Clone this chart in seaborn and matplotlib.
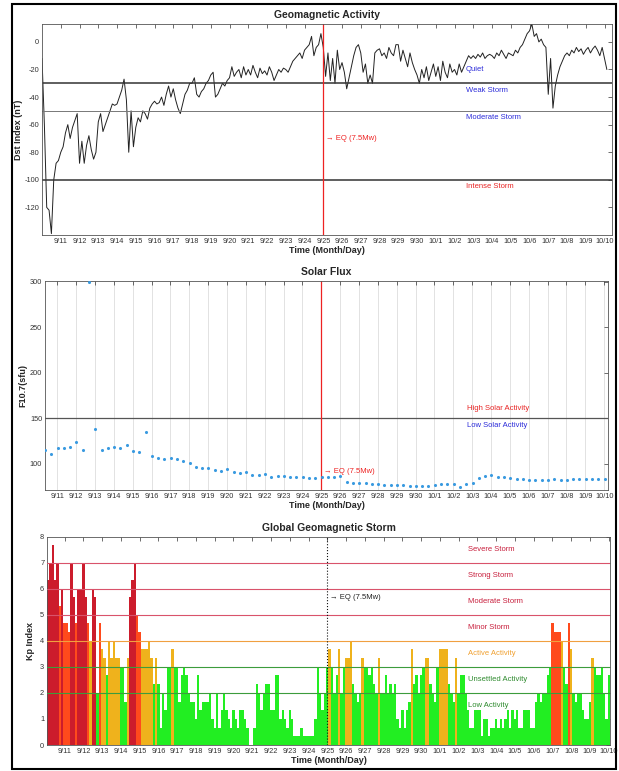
import numpy as np
import pandas as pd
import matplotlib
matplotlib.use("Agg")
import matplotlib.pyplot as plt
import seaborn as sns
from matplotlib.patches import Rectangle

# --- DATA (x = days since 9/10 00:00) ---
day_ticks = list(range(1, 31))
day_labels = [f"9/{d}" for d in range(11, 31)] + [f"10/{d}" for d in range(1, 11)]
eq_day = 15.0

# Dst index, 3-hourly
dst_values = [
    -12, -60, -120, -122, -139, -100, -88, -86,
    -80, -76, -66, -60, -70, -62, -57, -52,
    -88, -72, -88, -75, -68, -78, -85, -80,
    -58, -52, -65, -60, -55, -50, -45, -46,
    -45, -40, -35, -27, -42, -80, -50, -76,
    -62, -55, -58, -50, -52, -56, -48, -45,
    -43, -45, -44, -40, -46, -38, -32, -40,
    -34, -42, -48, -52, -45, -38, -35, -30,
    -30, -26, -38, -40, -36, -34, -30, -28,
    -24, -22, -40, -38, -34, -30, -32, -28,
    -26, -18, -25, -22, -20, -26, -18, -24,
    -20, -24, -17, -22, -26, -19, -23, -21,
    -24, -18, -22, -28, -24, -20, -22, -19,
    -20, -22, -18, -14, -12, -10, -8, -12,
    -6, -4, -2, 4, -10, -4, -2, 6,
    -4, -25, -8, -28, -12, -30, -6, -20,
    -15, -22, -34, -26, -18, -10, -4, -2,
    -8, -22, -16, -30, -24, -30, -8, -6,
    -5, -10, -8, -12, -4, -8, -10, -2,
    -2, -14, -6, -12, -18, -8, -15, -20,
    -24, -30, -20, -26, -18, -28, -22, -16,
    -25, -18, -28, -14, -22, -26, -16, -22,
    -20, -24, -16, -22, -18, -14, -10, -12,
    -10, -12, -9, -11, -8, -12, -10, -9,
    -10, -12, -8, -10, -6, -9, -12, -8,
    -9, -10, -6, -8, -4, -2, 2, 6,
    8, 13, 4, 6, 0, 2, -2, -4,
    -38, -12, -48, -32, -24, -18, -14, -10,
    -8, -10, -6, -8, -4, -7, -5, -9,
    -6, -4, -8, -5, -3, -6, -10, -4,
    -12, -20,
]

# F10.7 solar flux, 3 per day starting 9/10 08:00
f107_values = [
    114.7, 110, 117, 117, 118, 124, 114.7, 300, 138, 115,
    117, 118, 117, 120, 114, 113, 135, 108, 106, 105,
    106, 105, 103, 101, 96, 94.6, 94.6, 92.8, 91.3, 93.8,
    90.2, 89.1, 90.2, 87.7, 87.7, 88.4, 85.5, 85.9, 86.6, 84.8,
    84.8, 84.8, 84.5, 84.5, 84.8, 85.5, 84.8, 86.6, 79.5, 79.2,
    78.5, 78.2, 77.5, 77.2, 77.0, 77.0, 76.0, 76.5, 75.5, 75.8,
    75.0, 75.2, 77.0, 78.0, 77.5, 77.8, 73.8, 78.0, 78.5, 84.0,
    86.0, 87.7, 84.8, 84.8, 84.5, 83.0, 83.0, 82.5, 82.5, 82.5,
    82.5, 83.0, 82.5, 82.5, 83.0, 83.0, 83.0, 83.0, 83.0, 83.0,
]

# Kp index, 3-hourly
kp_values = [
    6.33, 7.0, 7.67, 6.33, 7.0, 5.33, 6.0, 4.67,
    4.67, 4.33, 7.0, 5.67, 4.67, 6.0, 6.0, 7.0,
    5.67, 4.67, 4.0, 6.0, 5.67, 2.0, 4.67, 3.67,
    3.33, 2.67, 4.0, 3.33, 4.0, 3.33, 3.33, 3.0,
    3.0, 1.67, 3.33, 5.67, 6.33, 7.0, 5.0, 4.33,
    3.67, 3.67, 3.67, 4.0, 3.33, 2.33, 3.33, 2.33,
    0.67, 2.0, 1.33, 3.0, 3.0, 3.67, 3.0, 3.0,
    1.67, 2.67, 3.0, 2.67, 2.0, 1.67, 1.67, 1.0,
    2.67, 1.33, 1.67, 1.67, 1.67, 2.0, 1.0, 0.67,
    2.0, 0.67, 1.33, 2.0, 1.33, 1.0, 0.67, 1.33,
    1.0, 0.67, 1.33, 1.33, 1.0, 0.67, 0.0, 0.0,
    0.67, 2.33, 2.0, 1.33, 2.0, 2.33, 2.33, 1.33,
    1.33, 2.67, 2.67, 1.0, 1.33, 1.0, 0.67, 1.33,
    1.0, 0.33, 0.33, 0.33, 0.67, 0.33, 0.33, 0.33,
    0.33, 0.33, 1.0, 3.0, 2.0, 1.33, 2.0, 3.0,
    3.67, 3.0, 2.0, 2.67, 3.67, 2.0, 3.0, 3.33,
    3.33, 4.0, 2.33, 2.0, 1.67, 2.0, 3.33, 3.0,
    3.0, 2.67, 3.0, 2.33, 2.0, 3.33, 2.0, 2.0,
    2.67, 2.0, 2.33, 2.0, 2.33, 1.0, 0.67, 1.33,
    0.67, 1.33, 1.67, 3.67, 2.33, 2.67, 2.0, 2.67,
    3.0, 3.33, 3.33, 2.33, 2.0, 1.67, 3.0, 3.67,
    3.67, 3.67, 3.67, 2.33, 2.0, 1.67, 3.33, 2.0,
    2.67, 2.67, 2.0, 1.33, 0.67, 0.67, 1.33, 1.33,
    1.33, 0.33, 1.0, 1.0, 0.33, 0.67, 0.67, 1.0,
    0.67, 1.0, 0.67, 1.0, 1.33, 0.67, 1.33, 1.0,
    1.33, 0.67, 0.67, 1.33, 1.33, 1.33, 0.67, 0.67,
    1.67, 2.0, 1.67, 2.0, 2.0, 2.67, 3.0, 4.67,
    4.33, 4.33, 4.33, 4.0, 3.0, 2.33, 4.67, 3.67,
    2.0, 1.67, 2.0, 2.0, 1.33, 1.0, 1.0, 1.67,
    3.33, 3.0, 2.67, 2.67, 3.0, 2.0, 1.0, 2.67,
]

dst_levels = [("Quiet", -20, "#2b2bd9"), ("Weak Storm", -35, "#2b2bd9"),
              ("Moderate Storm", -55, "#2b2bd9"), ("Intense Storm", -105, "#e82424")]
kp_levels = [(7, "Severe Storm", 7.5, "#c81e3c", "#d9536b"),
             (6, "Strong Storm", 6.5, "#c81e3c", "#d9536b"),
             (5, "Moderate Storm", 5.5, "#c81e3c", "#d9536b"),
             (4, "Minor Storm", 4.5, "#c81e3c", "#f0a040"),
             (3, "Active Activity", 3.5, "#f0a030", "#3c9c3c"),
             (2, "Unsettled Activity", 2.5, "#2e8b2e", "#3c9c3c"),
             (None, "Low Activity", 1.5, "#2e8b2e", None)]

kp_palette = {"quiet": "#22ee22", "active": "#efb21c", "minor": "#ff4a1c", "storm": "#cc1c2c"}


def kp_class(k):
    if k > 5.5:
        return "storm"
    if k > 4:
        return "minor"
    if k > 3:
        return "active"
    return "quiet"


dst_df = pd.DataFrame({"day": np.arange(len(dst_values)) * 0.125, "dst": dst_values})
f107_df = pd.DataFrame({"day": 0.35 + np.arange(len(f107_values)) / 3, "flux": f107_values})
kp_df = pd.DataFrame({"day": 0.125 * (np.arange(len(kp_values)) + 1), "kp": kp_values})
kp_df["level"] = kp_df["kp"].map(kp_class)

sns.set_style("white")
plt.rcParams["font.family"] = ["Liberation Sans", "DejaVu Sans"]
plt.rcParams["axes.unicode_minus"] = False

fig = plt.figure(figsize=(6.19, 7.71), dpi=100)
ax1 = fig.add_axes([0.0679, 0.6952, 0.9208, 0.2737])
ax2 = fig.add_axes([0.0727, 0.3645, 0.9095, 0.2715])
ax3 = fig.add_axes([0.0759, 0.0337, 0.9095, 0.2702])


def style_axes(ax, title, ylabel, ypad=4):
    ax.set_title(title, fontsize=7.5, fontweight="bold", pad=4)
    ax.set_ylabel(ylabel, fontsize=6.5, fontweight="bold", labelpad=ypad)
    ax.set_xlabel("Time (Month/Day)", fontsize=6.5, fontweight="bold", labelpad=1)
    ax.set_xticks(day_ticks)
    ax.set_xticklabels(day_labels)
    ax.tick_params(direction="in", top=True, right=True, length=3, width=0.5,
                   labelsize=5.3, pad=2, colors="#333333")
    for sp in ax.spines.values():
        sp.set_linewidth(0.6)
        sp.set_color("#555555")


# --- 1. Geomagnetic Activity ---
sns.lineplot(data=dst_df, x="day", y="dst", ax=ax1, color="#222222", linewidth=0.7,
             estimator=None)
ax1.axhline(-30, color="#333333", lw=1.1)
ax1.axhline(-50, color="#777777", lw=0.7)
ax1.axhline(-100, color="#333333", lw=1.1)
for name, ypos, col in dst_levels:
    ax1.text(22.6, ypos, name, color=col, fontsize=5.5, va="center")
ax1.axvline(eq_day, color="#ee2222", lw=0.9)
ax1.text(eq_day + 0.15, -70, "\u2192 EQ (7.5Mw)", color="#ee2222", fontsize=5.5, va="center")
ax1.set_xlim(0, 30.4)
ax1.set_ylim(-140, 13)
ax1.set_yticks([-120, -100, -80, -60, -40, -20, 0])
style_axes(ax1, "Geomagnetic Activity", "Dst Index (nT)", ypad=1)

# --- 2. Solar Flux ---
for d in day_ticks:
    ax2.axvline(d, color="#dddddd", lw=0.6, zorder=0)
sns.scatterplot(data=f107_df, x="day", y="flux", ax=ax2, color="#3a9ae0", s=5,
                linewidth=0, zorder=3)
ax2.axhline(150, color="#555555", lw=0.9)
ax2.text(22.7, 161, "High Solar Activity", color="#e82424", fontsize=5.5, va="center")
ax2.text(22.7, 141.6, "Low Solar Activity", color="#2b2bd9", fontsize=5.5, va="center")
ax2.axvline(eq_day, color="#ee2222", lw=0.9)
ax2.text(eq_day + 0.15, 91, "\u2192 EQ (7.5Mw)", color="#ee2222", fontsize=5.5, va="center")
ax2.set_xlim(0.35, 30.2)
ax2.set_ylim(71, 301)
ax2.set_yticks([100, 150, 200, 250, 300])
style_axes(ax2, "Solar Flux", "F10.7(sfu)", ypad=2)

# --- 3. Global Geomagnetic Storm ---
sns.barplot(data=kp_df, x="day", y="kp", color=kp_palette["quiet"], ax=ax3,
            native_scale=True, width=1.0, errorbar=None, linewidth=0, saturation=1)
for bar, lvl in zip(ax3.patches, kp_df["level"]):
    bar.set_facecolor(kp_palette[lvl])
for lvl, name, ypos, tcol, lcol in kp_levels:
    if lvl is not None:
        ax3.axhline(lvl, color=lcol, lw=0.8, zorder=5)
    ax3.text(22.5, ypos, name, color=tcol, fontsize=5.5, va="center", zorder=6)
ax3.axvline(eq_day, color="#111111", lw=0.8, ls=":", zorder=6)
ax3.text(eq_day + 0.15, 5.65, "\u2192 EQ (7.5Mw)", color="#222222", fontsize=5.5, va="center")
ax3.set_xlim(0.0625, 30.0625)
ax3.set_ylim(0, 8)
ax3.set_yticks(range(0, 9))
style_axes(ax3, "Global Geomagnetic Storm", "Kp Index", ypad=4)

# outer frame
fig.patches.append(Rectangle((12 / 619, 2 / 771), 604 / 619, 765 / 771, transform=fig.transFigure,
                             fill=False, edgecolor="black", linewidth=1.5))

fig.savefig("out.png", dpi=100)
